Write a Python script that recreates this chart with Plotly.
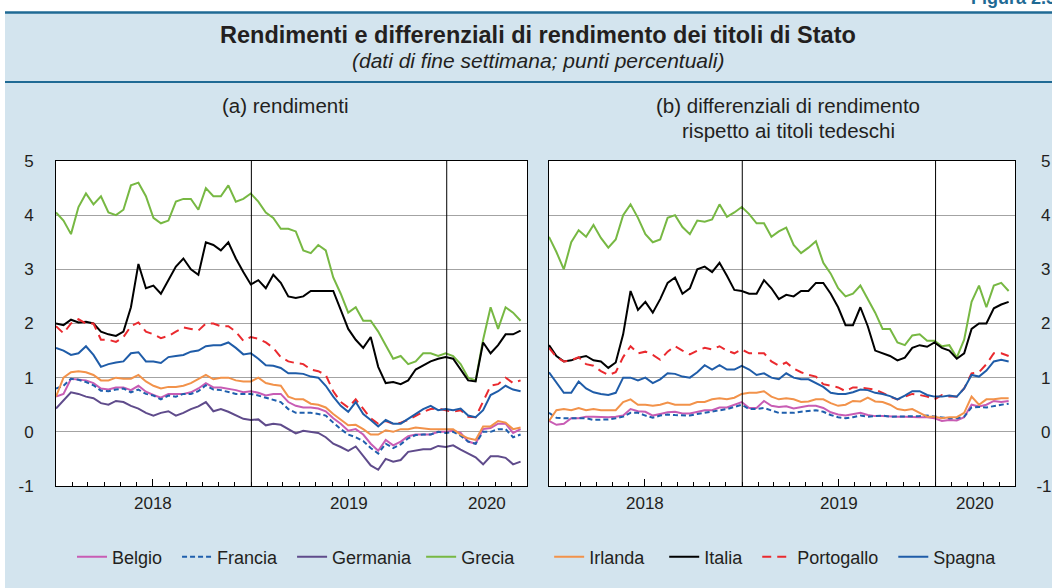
import plotly.graph_objects as go
import pandas as pd

W, H = 1052, 588

# bi-weekly observation dates (end-of-week data, sampled)
DATES = pd.date_range("2018-01-01", periods=63, freq="14D")

# ---------- (a) yields ----------
BE_Y = [0.65, 0.7, 0.98, 0.97, 0.95, 0.9, 0.8, 0.78, 0.82, 0.82,
        0.77, 0.85, 0.74, 0.68, 0.63, 0.7, 0.7, 0.7, 0.73, 0.8,
        0.9, 0.82, 0.82, 0.8, 0.77, 0.73, 0.75, 0.72, 0.67, 0.7,
        0.7, 0.55, 0.48, 0.45, 0.45, 0.43, 0.38, 0.25, 0.15, 0.02,
        0.05, -0.05, -0.22, -0.35, -0.15, -0.25, -0.18, -0.08, -0.05, -0.05,
        -0.05, 0.0, 0.0, 0.02, -0.02, -0.18, -0.22, 0.05, 0.07, 0.15,
        0.15, -0.02, 0.05]
FR_Y = [0.8, 0.85, 0.98, 0.96, 0.92, 0.86, 0.76, 0.75, 0.78, 0.8,
        0.73, 0.78, 0.7, 0.67, 0.6, 0.67, 0.65, 0.7, 0.7, 0.75,
        0.86, 0.78, 0.77, 0.73, 0.7, 0.7, 0.7, 0.67, 0.63, 0.6,
        0.55, 0.42, 0.35, 0.35, 0.35, 0.33, 0.3, 0.17, 0.05, -0.05,
        -0.1, -0.17, -0.3, -0.4, -0.22, -0.3, -0.23, -0.12, -0.06, -0.05,
        -0.05, 0.0, -0.02, 0.0, -0.07, -0.18, -0.22, 0.0, 0.0, 0.05,
        0.05, -0.1, -0.05]
DE_Y = [0.43, 0.58, 0.73, 0.7, 0.65, 0.62, 0.53, 0.5, 0.57, 0.55,
        0.48, 0.43, 0.35, 0.3, 0.35, 0.38, 0.3, 0.35, 0.42, 0.47,
        0.55, 0.38, 0.42, 0.37, 0.3, 0.24, 0.22, 0.23, 0.12, 0.15,
        0.13, 0.05, -0.03, 0.02, 0.0, -0.02, -0.1, -0.22, -0.28, -0.35,
        -0.27, -0.45, -0.62, -0.7, -0.5, -0.55, -0.52, -0.37, -0.35, -0.32,
        -0.32, -0.26, -0.28, -0.25, -0.33, -0.4, -0.47, -0.6, -0.45, -0.45,
        -0.48, -0.6, -0.55]
GR_Y = [4.05, 3.9, 3.65, 4.15, 4.4, 4.2, 4.35, 4.05, 4.0, 4.1,
        4.55, 4.6, 4.35, 3.95, 3.85, 3.9, 4.25, 4.3, 4.3, 4.1,
        4.5, 4.35, 4.35, 4.55, 4.25, 4.3, 4.4, 4.25, 4.05, 3.95,
        3.75, 3.75, 3.7, 3.35, 3.3, 3.45, 3.35, 2.85, 2.55, 2.2,
        2.3, 2.05, 2.05, 1.85, 1.6, 1.35, 1.4, 1.25, 1.3, 1.45,
        1.45, 1.4, 1.45, 1.4, 1.25, 1.0, 0.95, 1.7, 2.3, 1.9,
        2.3, 2.2, 2.05]
IE_Y = [0.65, 1.0, 1.1, 1.12, 1.1, 1.05, 0.95, 0.95, 1.0, 0.98,
        0.98, 1.05, 0.93, 0.85, 0.8, 0.83, 0.83, 0.85, 0.9, 0.97,
        1.05, 0.97, 1.0, 1.0, 0.95, 0.93, 0.93, 1.0, 0.9, 0.87,
        0.85, 0.65, 0.6, 0.6, 0.52, 0.5, 0.45, 0.33, 0.22, 0.12,
        0.13, 0.05, -0.05, -0.05, 0.03, 0.0, 0.05, 0.05, 0.08, 0.06,
        0.05, 0.05, 0.05, 0.05, -0.05, -0.12, -0.15, 0.1, 0.1, 0.2,
        0.17, 0.05, 0.08]
IT_Y = [2.0, 1.97, 2.07, 2.02, 2.03, 2.0, 1.85, 1.8, 1.77, 1.85,
        2.3, 3.1, 2.65, 2.7, 2.55, 2.8, 3.05, 3.2, 3.0, 2.9,
        3.5, 3.45, 3.35, 3.5, 3.2, 2.95, 2.72, 2.8, 2.65, 2.9,
        2.75, 2.5, 2.47, 2.5, 2.6, 2.6, 2.6, 2.6, 2.25, 1.9,
        1.7, 1.55, 1.75, 1.2, 0.9, 0.92, 0.88, 0.95, 1.15, 1.22,
        1.3, 1.35, 1.38, 1.35, 1.15, 0.95, 0.93, 1.65, 1.45, 1.6,
        1.8, 1.8, 1.87]
PT_Y = [1.95, 1.82, 2.0, 2.08, 2.0, 2.0, 1.7, 1.7, 1.66, 1.75,
        1.95, 2.02, 1.85, 1.8, 1.73, 1.77, 1.85, 1.93, 1.9, 1.87,
        2.0, 2.0, 1.95, 1.95, 1.85, 1.68, 1.75, 1.72, 1.65, 1.55,
        1.38, 1.3, 1.27, 1.25, 1.15, 1.12, 1.05, 0.75, 0.55, 0.45,
        0.6, 0.42, 0.25, 0.15, 0.2, 0.15, 0.17, 0.22, 0.3, 0.37,
        0.42, 0.43, 0.4, 0.37, 0.4, 0.28, 0.27, 0.55, 0.85, 0.88,
        1.0, 0.9, 0.95]
ES_Y = [1.55, 1.5, 1.42, 1.45, 1.58, 1.42, 1.2, 1.25, 1.28, 1.3,
        1.45, 1.47, 1.3, 1.3, 1.27, 1.38, 1.4, 1.42, 1.48, 1.5,
        1.58, 1.6, 1.6, 1.65, 1.55, 1.43, 1.45, 1.35, 1.23, 1.22,
        1.18, 1.08, 1.08, 1.07, 1.02, 1.0, 0.85, 0.65, 0.48, 0.37,
        0.55, 0.33, 0.22, 0.1, 0.22, 0.15, 0.15, 0.24, 0.32, 0.42,
        0.48, 0.4, 0.42, 0.4, 0.43, 0.3, 0.27, 0.4, 0.68, 0.75,
        0.85, 0.78, 0.75]

# ---------- (b) spreads vs German Bunds ----------
BE_S = [0.2, 0.13, 0.15, 0.25, 0.25, 0.28, 0.28, 0.27, 0.27, 0.28,
        0.3, 0.42, 0.38, 0.37, 0.3, 0.33, 0.36, 0.37, 0.34, 0.34,
        0.37, 0.4, 0.4, 0.45, 0.45, 0.5, 0.55, 0.44, 0.44, 0.57,
        0.48, 0.46, 0.47, 0.43, 0.45, 0.48, 0.48, 0.44, 0.36, 0.32,
        0.3, 0.32, 0.35, 0.31, 0.29, 0.29, 0.28, 0.28, 0.28, 0.27,
        0.27, 0.27, 0.25, 0.2, 0.22, 0.21, 0.27, 0.5, 0.47, 0.5,
        0.57, 0.55, 0.57]
FR_S = [0.35, 0.26, 0.25, 0.25, 0.25, 0.25, 0.22, 0.22, 0.23, 0.25,
        0.28, 0.35, 0.35, 0.3, 0.26, 0.3, 0.32, 0.31, 0.3, 0.3,
        0.33, 0.35, 0.38, 0.39, 0.42, 0.46, 0.5, 0.42, 0.42, 0.44,
        0.4, 0.35, 0.35, 0.35, 0.37, 0.39, 0.4, 0.37, 0.31, 0.27,
        0.25, 0.27, 0.3, 0.28, 0.29, 0.3, 0.28, 0.28, 0.28, 0.28,
        0.29, 0.3, 0.28, 0.26, 0.25, 0.25, 0.28, 0.45, 0.46, 0.45,
        0.48, 0.5, 0.52]
GR_S = [3.6, 3.32, 3.0, 3.5, 3.72, 3.6, 3.82, 3.58, 3.4, 3.55,
        4.0, 4.2, 3.95, 3.65, 3.5, 3.55, 3.95, 4.0, 3.78, 3.65,
        3.9, 3.88, 3.92, 4.2, 3.97, 4.05, 4.15, 4.02, 3.85, 3.85,
        3.6, 3.7, 3.77, 3.45, 3.3, 3.4, 3.52, 3.12, 2.92, 2.65,
        2.5, 2.55, 2.7, 2.45, 2.2, 1.9, 1.9, 1.65, 1.6, 1.78,
        1.8, 1.68, 1.68, 1.58, 1.6, 1.37, 1.7, 2.4, 2.7, 2.3,
        2.7, 2.75, 2.6]
IE_S = [0.2, 0.4, 0.42, 0.4, 0.44, 0.4, 0.42, 0.4, 0.4, 0.4,
        0.55, 0.6, 0.5, 0.5, 0.48, 0.5, 0.54, 0.5, 0.5, 0.5,
        0.55, 0.55, 0.6, 0.62, 0.6, 0.63, 0.7, 0.72, 0.72, 0.75,
        0.65, 0.6, 0.62, 0.6, 0.55, 0.56, 0.6, 0.6, 0.53, 0.48,
        0.5, 0.57, 0.56, 0.63, 0.56, 0.55, 0.5, 0.42, 0.4, 0.42,
        0.35, 0.28, 0.28, 0.25, 0.27, 0.27, 0.35, 0.65, 0.5, 0.6,
        0.6, 0.62, 0.62]
IT_S = [1.6, 1.4, 1.3, 1.32, 1.37, 1.4, 1.32, 1.3, 1.18, 1.28,
        1.8, 2.6, 2.25, 2.4, 2.2, 2.45, 2.75, 2.85, 2.55, 2.65,
        3.0, 3.05, 2.95, 3.12, 2.88, 2.62, 2.6, 2.55, 2.55, 2.8,
        2.65, 2.45, 2.53, 2.5, 2.6, 2.6, 2.75, 2.75, 2.55, 2.3,
        1.97, 1.97, 2.3, 1.95, 1.5, 1.45, 1.4, 1.32, 1.37, 1.55,
        1.6, 1.57, 1.65, 1.55, 1.5, 1.35, 1.45, 1.9, 2.0, 2.0,
        2.28, 2.35, 2.4]
PT_S = [1.55, 1.38, 1.3, 1.32, 1.38, 1.25, 1.22, 1.12, 1.05, 1.1,
        1.38, 1.58, 1.45, 1.48, 1.42, 1.33, 1.48, 1.58, 1.5, 1.43,
        1.5, 1.55, 1.52, 1.58, 1.5, 1.45, 1.52, 1.45, 1.45, 1.45,
        1.3, 1.22, 1.28, 1.17, 1.1, 1.05, 1.02, 0.88, 0.85, 0.82,
        0.75, 0.82, 0.82, 0.8, 0.78, 0.72, 0.65, 0.6, 0.65, 0.7,
        0.68, 0.65, 0.6, 0.68, 0.65, 0.65, 0.8, 1.08, 1.1, 1.25,
        1.45, 1.45, 1.4]
ES_S = [1.1, 0.9, 0.72, 0.72, 0.93, 0.8, 0.73, 0.7, 0.68, 0.72,
        1.0, 1.0, 0.95, 1.0, 0.9, 0.97, 1.08, 1.07, 1.02, 1.0,
        1.1, 1.23, 1.15, 1.23, 1.15, 1.15, 1.22, 1.15, 1.05, 1.08,
        1.0, 0.97, 1.08, 1.0, 0.97, 0.97, 0.9, 0.83, 0.72, 0.7,
        0.7, 0.73, 0.78, 0.77, 0.72, 0.7, 0.66, 0.6, 0.67, 0.75,
        0.75, 0.68, 0.65, 0.65, 0.67, 0.65, 0.8, 1.05, 1.02, 1.13,
        1.3, 1.33, 1.3]

YEARS = ["2018", "2019", "2020"]
YEAR_CENTERS = ["2018-07-02", "2019-07-02", "2020-03-16"]
YEAR_BREAKS = ["2019-01-01", "2020-01-01"]
Y_TICKS = [-1, 0, 1, 2, 3, 4, 5]
Y_TICKTEXT = ["-1", "0", "1", "2", "3", "4", "5"]
X_RANGE = ["2018-01-01", "2020-05-30"]

NB = "\u00a0"
# right-hand labels: pad single digits so they line up on the right like "-1"
Y_TICKTEXT_R = [t if t.startswith("-") else NB + t for t in Y_TICKTEXT]

SERIES = [
    ("Belgio", BE_Y, BE_S, "#c85cb4", "solid", 2),
    ("Francia", FR_Y, FR_S, "#1f5fad", "5px,3px", 2),
    ("Germania", DE_Y, None, "#5f4b8b", "solid", 1),
    ("Grecia", GR_Y, GR_S, "#77b843", "solid", 6),
    ("Irlanda", IE_Y, IE_S, "#f2924a", "solid", 3),
    ("Italia", IT_Y, IT_S, "#000000", "solid", 2),
    ("Portogallo", PT_Y, PT_S, "#ea2a2f", "9px,6px", 2),
    ("Spagna", ES_Y, ES_S, "#1f5ca8", "solid", 0),
]

FONT = "Liberation Sans, Arial, Helvetica, sans-serif"
TXT = "#231f20"
BG = "#d3e4ee"
HEAD = "#1f6a94"


def px(x):
    return x / W


def py(y):
    return 1 - y / H


fig = go.Figure()
for name, yl, ys, col, dash, pad in SERIES:
    fig.add_trace(go.Scatter(
        x=DATES, y=yl, mode="lines", name=name + NB * pad,
        line=dict(color=col, width=2, dash=dash),
        xaxis="x", yaxis="y", legendgroup=name, hoverinfo="skip"))
for name, yl, ys, col, dash, pad in SERIES:
    if ys is None:
        continue
    fig.add_trace(go.Scatter(
        x=DATES, y=ys, mode="lines", name=name, showlegend=False,
        line=dict(color=col, width=2, dash=dash),
        xaxis="x2", yaxis="y2", legendgroup=name, hoverinfo="skip"))

xcommon = dict(
    type="date", range=X_RANGE, showgrid=False, zeroline=False,
    showline=True, mirror=True, linecolor="black", linewidth=1,
    tickvals=["2018-07-01", "2019-07-01"], ticks="inside", ticklen=7,
    tickcolor="black", tickwidth=1, showticklabels=False,
    minor=dict(tick0="2018-01-01", dtick="M1", ticks="inside", ticklen=4,
               tickcolor="black", tickwidth=1, showgrid=False),
    fixedrange=True, automargin=False,
)
ycommon = dict(
    range=[-1, 5], tickvals=Y_TICKS, showgrid=True,
    gridcolor="#a3a3a3", gridwidth=1, zeroline=False, showline=True,
    mirror=True, linecolor="black", linewidth=1, ticks="",
    tickfont=dict(size=17, color=TXT, family=FONT), fixedrange=True,
    domain=[py(486), py(161)], automargin=False,
)

fig.update_layout(
    width=W, height=H, autosize=False,
    margin=dict(l=0, r=0, t=0, b=0, pad=0, autoexpand=False),
    paper_bgcolor=BG, plot_bgcolor="white",
    font=dict(family=FONT, color=TXT),
    xaxis=dict(domain=[px(56), px(527)], anchor="y", **xcommon),
    xaxis2=dict(domain=[px(549), px(1015)], anchor="y2", **xcommon),
    yaxis=dict(anchor="x", side="left", ticklabelstandoff=18,
               ticktext=Y_TICKTEXT, **ycommon),
    yaxis2=dict(anchor="x2", side="right", ticklabelstandoff=17,
                ticktext=Y_TICKTEXT_R, **ycommon),
    legend=dict(orientation="h", x=px(72), xanchor="left", y=py(557),
                yanchor="middle", font=dict(size=18, color=TXT, family=FONT),
                bgcolor="rgba(0,0,0,0)", itemwidth=30, traceorder="normal"),
    showlegend=True,
)

shapes = [
    dict(type="rect", xref="paper", yref="paper", x0=0, x1=1, y0=py(12), y1=1,
         fillcolor="white", line=dict(width=0), layer="below"),
    dict(type="rect", xref="paper", yref="paper", x0=0, x1=px(5), y0=0, y1=1,
         fillcolor="white", line=dict(width=0), layer="below"),
    dict(type="line", xref="paper", yref="paper", x0=px(5), x1=1,
         y0=py(12.5), y1=py(12.5), line=dict(color=HEAD, width=2.5)),
    dict(type="line", xref="paper", yref="paper", x0=px(5), x1=1,
         y0=py(82), y1=py(82), line=dict(color=HEAD, width=2)),
]
for xr in ["x", "x2"]:
    for b in YEAR_BREAKS:
        shapes.append(dict(type="line", xref=xr, yref=("y domain" if xr == "x" else "y2 domain"),
                           x0=b, x1=b, y0=0, y1=1, line=dict(color="black", width=1)))
fig.update_layout(shapes=shapes)

ann = [
    dict(text="<b>Figura 2.5</b>", xref="paper", yref="paper", x=px(969), y=py(-1.7),
         xanchor="left", yanchor="middle", showarrow=False,
         font=dict(size=18, color=HEAD, family=FONT)),
    dict(text="<b>Rendimenti e differenziali di rendimento dei titoli di Stato</b>",
         xref="paper", yref="paper", x=px(538), y=py(35), xanchor="center",
         yanchor="middle", showarrow=False, font=dict(size=23.5, color=TXT, family=FONT)),
    dict(text="<i>(dati di fine settimana; punti percentuali)</i>",
         xref="paper", yref="paper", x=px(538), y=py(61), xanchor="center",
         yanchor="middle", showarrow=False, font=dict(size=21, color=TXT, family=FONT)),
    dict(text="(a) rendimenti", xref="paper", yref="paper", x=px(285), y=py(105),
         xanchor="center", yanchor="middle", showarrow=False,
         font=dict(size=20.5, color=TXT, family=FONT)),
    dict(text="(b) differenziali di rendimento", xref="paper", yref="paper",
         x=px(788), y=py(105), xanchor="center", yanchor="middle", showarrow=False,
         font=dict(size=20.5, color=TXT, family=FONT)),
    dict(text="rispetto ai titoli tedeschi", xref="paper", yref="paper",
         x=px(788), y=py(131), xanchor="center", yanchor="middle", showarrow=False,
         font=dict(size=20.5, color=TXT, family=FONT)),
]
for xr in ["x", "x2"]:
    for yr, c in zip(YEARS, YEAR_CENTERS):
        ann.append(dict(text=yr, xref=xr, yref="paper", x=c, y=py(503),
                        xanchor="center", yanchor="middle", showarrow=False,
                        font=dict(size=17, color=TXT, family=FONT)))
fig.update_layout(annotations=ann)

POST = (
    "var gd=document.getElementById('{plot_id}');"
    "gd.style.position='fixed';gd.style.top='0px';gd.style.left='0px';"
    "document.body.style.margin='0';document.body.style.padding='0';"
    "document.body.style.overflow='hidden';"
    "document.body.style.height='588px';"
    "document.documentElement.style.overflow='hidden';"
)

fig.write_html(
    "out.html",
    config={"displayModeBar": False, "staticPlot": True},
    post_script=POST,
)
